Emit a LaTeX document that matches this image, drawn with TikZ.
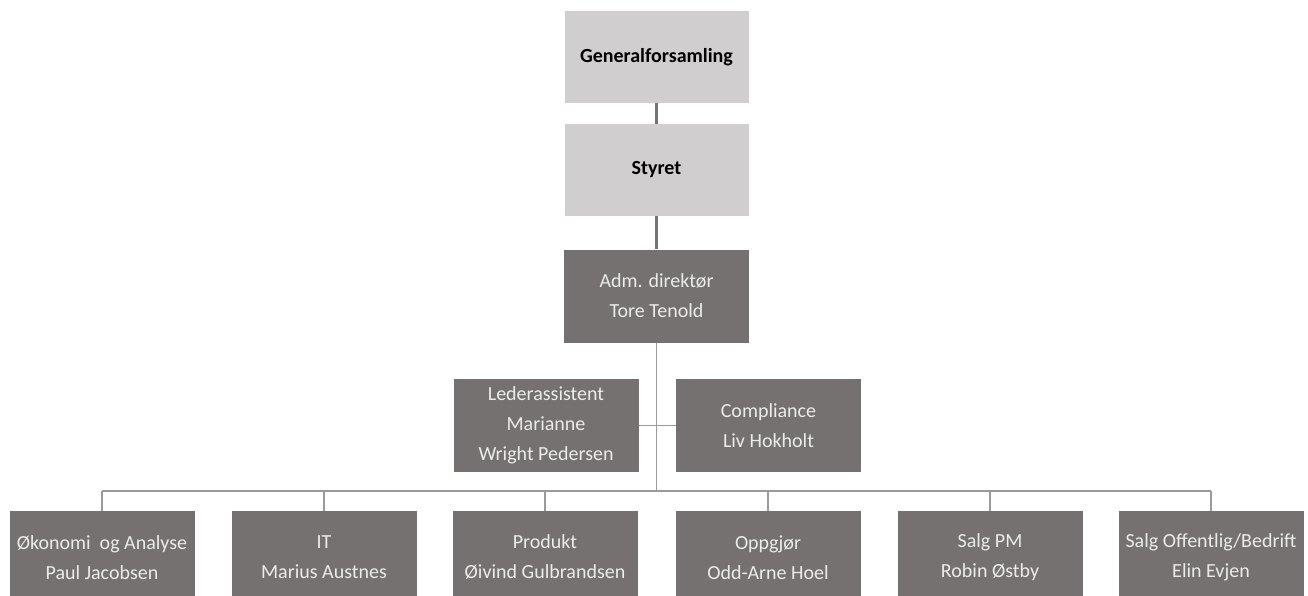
\documentclass[tikz,border=0pt]{standalone}
\usepackage{fontspec}
\setmainfont{Carlito}
\usetikzlibrary{positioning}

\definecolor{boardgray}{HTML}{D0CECE}
\definecolor{unitgray}{HTML}{767171}
\definecolor{linegray}{HTML}{9A9A9A}
\definecolor{boardline}{HTML}{747474}

\tikzset{
    topbox/.style = {fill = boardgray, minimum width = 184pt, minimum height = 92pt,
        inner sep = 0pt, align = center, font = \bfseries\fontsize{20}{30}\selectfont},
    unitbox/.style = {fill = unitgray, text = white!92!black, minimum width = 185pt,
        minimum height = 93pt, inner sep = 0pt, align = center,
        font = \fontsize{20}{30}\selectfont},
    orgline/.style = {draw = linegray, line width = 1.8pt},
    boardlink/.style = {draw = boardline, line width = 3pt}
}

\begin{document}
\begin{tikzpicture}[x = 1pt, y = -1pt]
            \useasboundingbox (0, 0) rectangle (1308, 596);
            \clip (0, 0) rectangle (1308, 596);

            \pgfmathsetmacro{\midx}{656.5}
            \pgfmathsetmacro{\busy}{491}

            \node [topbox] (gf) at (\midx, 57) {Generalforsamling};
            \node [topbox] (styret) at (\midx, 170) {Styret};
            \node [unitbox] (adm) at (\midx, 296) {Adm. direktør\\Tore Tenold};
            \node [unitbox] (leder) at (546, 425.5) {Lederassistent\\Marianne\\Wright Pedersen};
            \node [unitbox] (compl) at (768.5, 425.5) {Compliance\\Liv Hokholt};

            \coordinate (bus) at (\midx, \busy);

            \draw [boardlink] (gf) -- (styret);
            \draw [boardlink] (styret) -- (adm);
            \draw [orgline] (adm) -- (bus);
            \draw [orgline] (leder) -- (compl);

            % avdelinger
            \foreach \x/\name/\txt in {
                102/okonomi/{Økonomi\ \ og Analyse\\Paul Jacobsen},
                324/it/{IT\\Marius Austnes},
                545/produkt/{Produkt\\Øivind Gulbrandsen},
                768/oppgjor/{Oppgjør\\Odd-Arne Hoel},
                990/salgpm/{Salg PM\\Robin Østby},
                1211/salgob/{Salg Offentlig/Bedrift\\Elin Evjen}} {
                \node [unitbox] (\name) at (\x, 557.5) {\txt};
                \coordinate (\name-top) at (\x, \busy);
                \draw [orgline, line width = 1.5pt] (\name-top) -- (\name);
            }

            \draw [orgline, line width = 1.5pt] (okonomi-top) -- (salgob-top);
        \end{tikzpicture}
\end{document}
